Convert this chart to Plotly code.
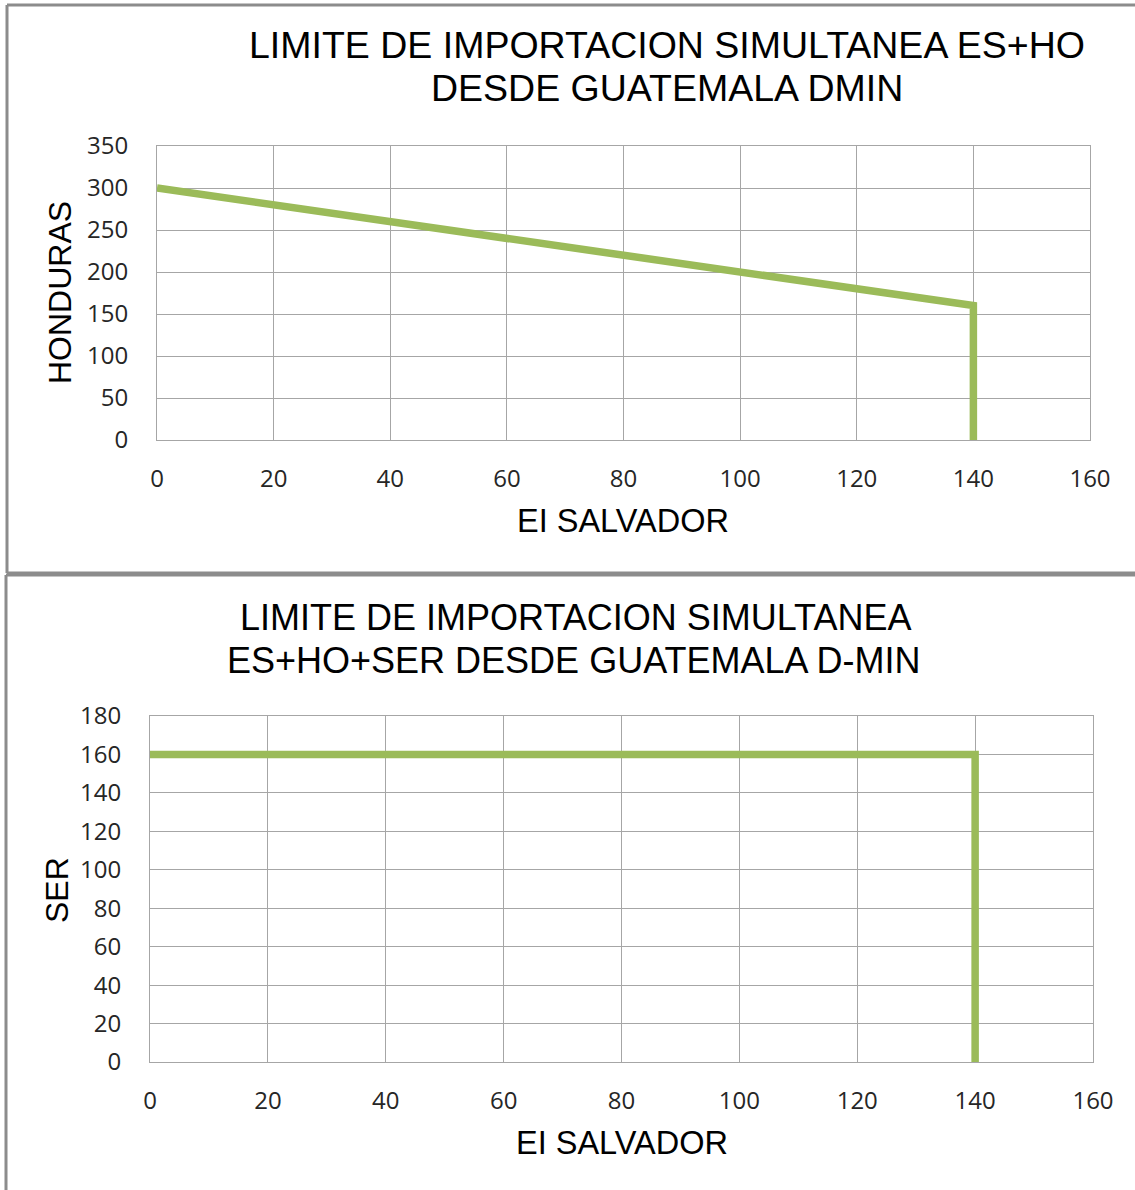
import plotly.graph_objects as go

W, H = 1135, 1190

# Data
es_top = [0, 20, 40, 60, 80, 100, 120, 140, 140]
ho_top = [300, 280, 260, 240, 220, 200, 180, 160, 0]
es_bot = [0, 140, 140]
ser_bot = [160, 160, 0]

x_ticks = [0, 20, 40, 60, 80, 100, 120, 140, 160]
y_ticks_top = [0, 50, 100, 150, 200, 250, 300, 350]
y_ticks_bot = [0, 20, 40, 60, 80, 100, 120, 140, 160, 180]

title_top = ["LIMITE DE IMPORTACION SIMULTANEA ES+HO", "DESDE GUATEMALA DMIN"]
title_bot = ["LIMITE DE IMPORTACION SIMULTANEA", "ES+HO+SER DESDE GUATEMALA D-MIN"]

GREEN = "#9BBB59"
GRID = "#A6A6A6"
FAM = "Liberation Sans, Arial, sans-serif"
TICKFONT = dict(family="Open Sans, Noto Sans, sans-serif", size=24, color="#262626")
TITLEFONT_TOP = dict(family=FAM, size=37.5, color="#000000")
TITLEFONT_BOT = dict(family=FAM, size=36, color="#000000")


def px(x):
    return x / W


def py(y):
    return 1 - y / H


fig = go.Figure()
fig.add_trace(go.Scatter(x=es_top, y=ho_top, mode="lines",
                         line=dict(color=GREEN, width=7.5), xaxis="x", yaxis="y",
                         showlegend=False, hoverinfo="skip"))
fig.add_trace(go.Scatter(x=es_bot, y=ser_bot, mode="lines",
                         line=dict(color=GREEN, width=7.5), xaxis="x2", yaxis="y2",
                         showlegend=False, hoverinfo="skip"))

common = dict(showgrid=True, gridcolor=GRID, gridwidth=1, showline=True,
              linecolor=GRID, linewidth=1, mirror=True, zeroline=False,
              automargin=False,
              tickfont=TICKFONT, ticks="outside", tickcolor="rgba(0,0,0,0)")

fig.update_layout(
    width=W, height=H,
    margin=dict(l=0, r=0, t=0, b=0, pad=0, autoexpand=False),
    paper_bgcolor="white", plot_bgcolor="white",
    xaxis=dict(domain=[px(157), px(1090)], range=[0, 160], tickvals=x_ticks,
               anchor="y", ticklen=17, **common),
    yaxis=dict(domain=[py(440), py(146)], range=[0, 350], tickvals=y_ticks_top,
               anchor="x", ticklen=23, **common),
    xaxis2=dict(domain=[px(150), px(1093)], range=[0, 160], tickvals=x_ticks,
                anchor="y2", ticklen=17, **common),
    yaxis2=dict(domain=[py(1062), py(716)], range=[0, 180], tickvals=y_ticks_bot,
                anchor="x2", ticklen=23, **common),
)

annotations = []
for text, x, y, f in [(title_top[0], 667, 45, TITLEFONT_TOP), (title_top[1], 667, 88, TITLEFONT_TOP),
                      (title_bot[0], 575, 617, TITLEFONT_BOT), (title_bot[1], 574, 660, TITLEFONT_BOT)]:
    annotations.append(dict(text=text, x=px(x), y=py(y), xref="paper", yref="paper",
                            showarrow=False, xanchor="center", yanchor="middle", font=f))
for text, x, y, ang, s in [("HONDURAS", 60, 293, -90, 32), ("EI SALVADOR", 623, 521, 0, 32.5),
                           ("SER", 57, 890, -90, 32), ("EI SALVADOR", 622, 1143, 0, 32.5)]:
    annotations.append(dict(text=text, x=px(x), y=py(y), xref="paper", yref="paper",
                            showarrow=False, xanchor="center", yanchor="middle",
                            textangle=ang, font=dict(family=FAM, size=s, color="#000000")))
fig.update_layout(annotations=annotations)

# panel borders (kept inside the figure)
BORDER = "#8C8C8C"
for x0, y0, x1, y1 in [(7, 5, 1135, 5), (7, 5, 7, 573), (7, 573, 1135, 573),
                       (6, 575, 1135, 575), (6, 575, 6, 1190)]:
    fig.add_shape(type="line", xref="paper", yref="paper",
                  x0=px(x0), y0=py(y0), x1=px(x1), y1=py(y1),
                  line=dict(color=BORDER, width=3), layer="below")

fig.write_html("out.html", config={"displayModeBar": False},
               post_script="document.body.style.margin='0';"
                           "document.body.style.padding='0';"
                           "document.body.style.overflow='hidden';"
                           "document.documentElement.style.overflow='hidden';")
